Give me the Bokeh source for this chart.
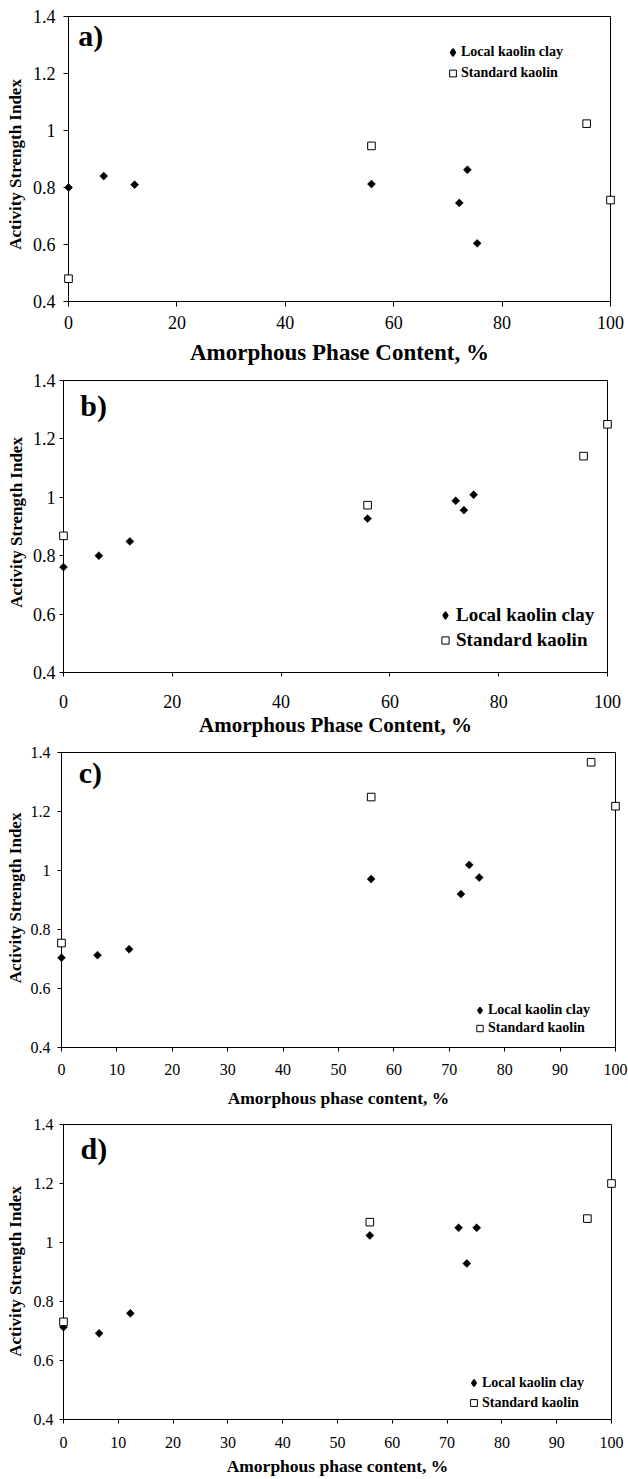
import math
from bokeh.plotting import figure
from bokeh.layouts import column
from bokeh.models import FixedTicker, Legend, LegendItem, Label, Range1d
from bokeh.core.properties import value
from bokeh.embed import file_html
from bokeh.resources import INLINE

# ---------------- data ----------------
series_names = ["Local kaolin clay", "Standard kaolin"]
local_x = [0, 6.5, 12.2, 55.9, 72.1, 73.6, 75.4]
std_x = [0, 55.9, 95.6, 100]

a_local = [0.80, 0.84, 0.81, 0.812, 0.746, 0.862, 0.604]
a_std = [0.48, 0.946, 1.024, 0.756]
b_local = [0.761, 0.80, 0.849, 0.927, 0.988, 0.956, 1.009]
b_std = [0.868, 0.973, 1.141, 1.25]
c_local = [0.704, 0.713, 0.733, 0.971, 0.92, 1.019, 0.976]
c_std = [0.754, 1.249, 1.367, 1.218]
d_local = [0.713, 0.692, 0.76, 1.024, 1.05, 0.929, 1.05]
d_std = [0.731, 1.069, 1.081, 1.2]

y_ticks = [0.4, 0.6, 0.8, 1.0, 1.2, 1.4]
y_tick_labels = ["0.4", "0.6", "0.8", "1", "1.2", "1.4"]
x_ticks_coarse = [0, 20, 40, 60, 80, 100]
x_ticks_fine = [0, 10, 20, 30, 40, 50, 60, 70, 80, 90, 100]
panel_labels = ["a)", "b)", "c)", "d)"]
x_titles = ["Amorphous Phase Content, %", "Amorphous Phase Content, %",
            "Amorphous phase content, %", "Amorphous phase content, %"]
y_title = "Activity Strength Index"

FONT = "Liberation Serif"

panels = [
    dict(local=a_local, std=a_std, xt=x_ticks_coarse, label=panel_labels[0], xtitle=x_titles[0],
         h=367, bt=16, bb=66, bl=68, br=18, tick_fs="18px", xt_fs="23px",
         tick_out=5, xstand=9, ystand=8,
         lab_xy=(1.8, 1.333), xt_xy=(50, 0.221), yt_xy=(-9.8, 0.881),
         leg_loc=(376, 219), leg_fs="14px", gw=17, gh=18, lh=18, sp=3, ls=0, dlw=2.0),
    dict(local=b_local, std=b_std, xt=x_ticks_coarse, label=panel_labels[1], xtitle=x_titles[1],
         h=371, bt=13, bb=66, bl=63, br=21, tick_fs="18px", xt_fs="21px",
         tick_out=4, xstand=18, ystand=4,
         lab_xy=(3.1, 1.314), xt_xy=(50, 0.2185), yt_xy=(-8.6, 0.914),
         leg_loc=(373, 21), leg_fs="19px", gw=18, gh=22, lh=22, sp=3, ls=2, dlw=1.5),
    dict(local=c_local, std=c_std, xt=x_ticks_fine, label=panel_labels[2], xtitle=x_titles[2],
         h=370, bt=14, bb=61, bl=61, br=13, tick_fs="16px", xt_fs="17.5px",
         tick_out=4, xstand=12, ystand=7,
         lab_xy=(3.1, 1.332), xt_xy=(50, 0.229), yt_xy=(-8.3, 0.907),
         leg_loc=(410, 11), leg_fs="14px", gw=17, gh=16, lh=16, sp=2, ls=0, dlw=1.5),
    dict(local=d_local, std=d_std, xt=x_ticks_fine, label=panel_labels[3], xtitle=x_titles[3],
         h=371, bt=16, bb=60, bl=63, br=17, tick_fs="16px", xt_fs="17.5px",
         tick_out=4, xstand=13, ystand=6,
         lab_xy=(3.1, 1.319), xt_xy=(50, 0.244), yt_xy=(-8.8, 0.902),
         leg_loc=(402, 8), leg_fs="14px", gw=17, gh=17, lh=17, sp=3, ls=0, dlw=1.5),
]


def make_panel(cfg):
    p = figure(width=628, height=cfg["h"], output_backend="svg", toolbar_location=None,
               x_range=Range1d(0, 100), y_range=Range1d(0.4, 1.4),
               min_border_top=cfg["bt"], min_border_bottom=cfg["bb"],
               min_border_left=cfg["bl"], min_border_right=cfg["br"])
    p.frame_align = False
    p.background_fill_color = "white"
    p.border_fill_color = "white"
    p.outline_line_color = "black"
    p.outline_line_width = 1
    p.xgrid.visible = False
    p.ygrid.visible = False

    for ax in (p.xaxis[0], p.yaxis[0]):
        ax.axis_line_color = "black"
        ax.axis_line_width = 1
        ax.major_tick_line_color = "black"
        ax.major_tick_in = 0
        ax.major_tick_out = cfg["tick_out"]
        ax.minor_tick_line_color = None
        ax.major_label_text_font = FONT
        ax.major_label_text_font_size = cfg["tick_fs"]
        ax.major_label_text_color = "black"

    xa = p.xaxis[0]
    xa.ticker = FixedTicker(ticks=cfg["xt"])
    xa.major_label_standoff = cfg["xstand"]

    ya = p.yaxis[0]
    ya.ticker = FixedTicker(ticks=y_ticks)
    ya.major_label_overrides = {t: s for t, s in zip(y_ticks, y_tick_labels)}
    ya.major_label_standoff = cfg["ystand"]

    # axis titles drawn as unclipped text glyphs in the border area
    tx, ty = cfg["xt_xy"]
    p.text(x=[tx], y=[ty], text=[cfg["xtitle"]], text_font=value(FONT),
           text_font_size=cfg["xt_fs"], text_font_style="bold",
           text_align="center", text_baseline="middle", text_color="black",
           level="overlay")
    yx, yy = cfg["yt_xy"]
    p.text(x=[yx], y=[yy], text=[y_title], text_font=value(FONT), text_font_size="17px",
           text_font_style="bold", angle=math.pi / 2,
           text_align="center", text_baseline="middle", text_color="black",
           level="overlay")

    # diamond-shaped renderer (hidden under the rotated squares) that gives the legend symbol
    r_leg = p.scatter(local_x, cfg["local"], marker="diamond", size=4, fill_color="black",
                      line_color="black", line_width=cfg["dlw"], level="overlay")
    r_loc = p.scatter(local_x, cfg["local"], marker="square", size=5.6, angle=math.pi / 4,
                      fill_color="black", line_color="black", line_width=0.6, level="overlay")
    r_std = p.scatter(std_x, cfg["std"], marker="square", size=7.6, fill_color="white",
                      line_color="black", line_width=1, level="overlay")

    legend = Legend(items=[LegendItem(label=series_names[0], renderers=[r_leg]),
                           LegendItem(label=series_names[1], renderers=[r_std])],
                    location=cfg["leg_loc"], orientation="vertical",
                    padding=0, margin=0, spacing=cfg["sp"],
                    glyph_width=cfg["gw"], glyph_height=cfg["gh"], label_height=cfg["lh"],
                    label_standoff=cfg["ls"],
                    label_text_font=FONT, label_text_font_size=cfg["leg_fs"],
                    label_text_font_style="bold", label_text_color="black",
                    background_fill_alpha=0, border_line_alpha=0)
    p.add_layout(legend)

    lx, ly = cfg["lab_xy"]
    p.add_layout(Label(x=lx, y=ly, text=cfg["label"], text_font=FONT, text_font_size="30px",
                       text_font_style="bold", text_baseline="middle", text_align="left",
                       text_color="black"))
    return p


figs = [make_panel(c) for c in panels]
layout = column(*figs, spacing=0)

with open("out.html", "w") as f:
    f.write(file_html(layout, INLINE))
